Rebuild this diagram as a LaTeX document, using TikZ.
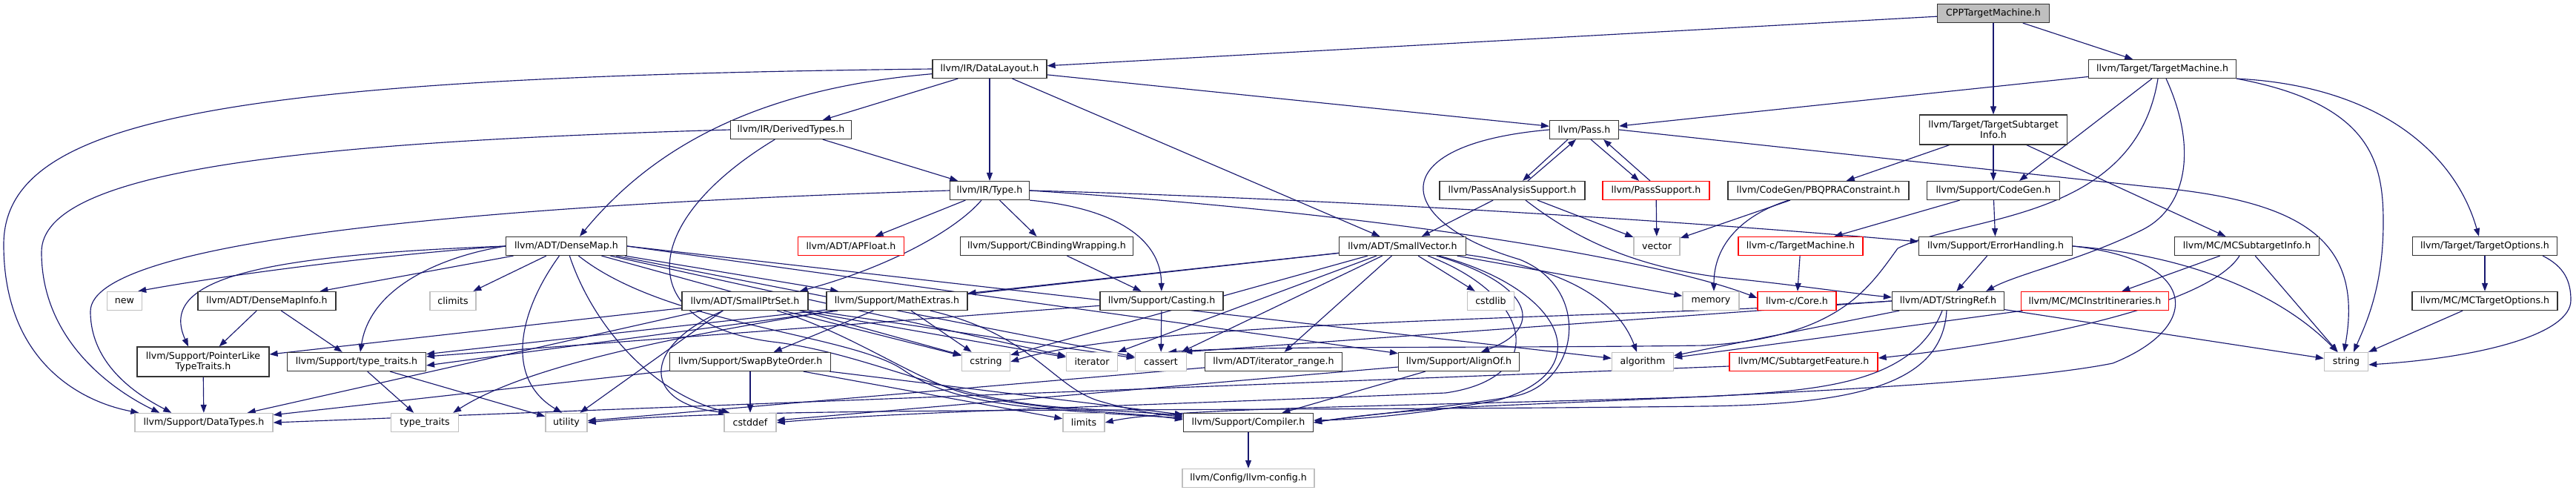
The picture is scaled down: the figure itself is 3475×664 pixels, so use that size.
\documentclass[tikz,border=0pt]{standalone}
\usepackage{fontspec}
\setmainfont{DejaVu Sans}
\usetikzlibrary{arrows.meta}
\definecolor{depblue}{HTML}{191970}
\definecolor{hdrline}{HTML}{333333}
\definecolor{sysline}{HTML}{BFBFBF}
\definecolor{rootfill}{HTML}{BFBFBF}
\definecolor{truncline}{HTML}{FF0000}
\newcommand{\graphfont}{\fontsize{12.6}{14.5}\selectfont}
\pgfdeclarelayer{edges}
\pgfsetlayers{edges,main}
\tikzset{
  hdr/.style={
    draw=hdrline,
    rectangle,
    line width=1.2pt,
    fill=white,
    minimum height=25pt,
    inner sep=0pt,
    align=center,
    font=\graphfont,
  },
  syshdr/.style={
    hdr,
    draw=sysline,
    line width=1.4pt
  },
  trunchdr/.style={
    hdr,
    draw=truncline
  },
  roothdr/.style={
    hdr,
    fill=rootfill
  },
  dep/.style={
    -{Triangle[length=11pt,width=8pt]},
    draw=depblue,
    line width=1.15pt
  }
}

\begin{document}
\begin{tikzpicture}[x=1pt, y=-1pt]
\useasboundingbox (0,0) rectangle (3475,664);

% --- Rang 0 et 1 ---
\node[roothdr, minimum width=151] (cpp) at (2689,18) {CPPTargetMachine.h};
\node[hdr, minimum width=154] (dl) at (1335,93) {llvm/IR/DataLayout.h};
\node[hdr, minimum width=199] (tm) at (2917,93) {llvm/Target/TargetMachine.h};

% --- Rang 2 ---
\node[hdr, minimum width=163] (dty) at (1067,175) {llvm/IR/DerivedTypes.h};
\node[hdr, minimum width=93] (pass) at (2137,175) {llvm/Pass.h};
\node[hdr, minimum width=199, minimum height=40] (tsi) at (2689,175) {llvm/Target/TargetSubtarget\\Info.h};

% --- Rang 3 ---
\node[hdr, minimum width=107] (type) at (1335,257) {llvm/IR/Type.h};
\node[hdr, minimum width=196] (pas) at (2040,257) {llvm/PassAnalysisSupport.h};
\node[trunchdr, minimum width=144] (ps) at (2234,257) {llvm/PassSupport.h};
\node[hdr, minimum width=244] (pbqp) at (2453,257) {llvm/CodeGen/PBQPRAConstraint.h};
\node[hdr, minimum width=179] (cg) at (2689,257) {llvm/Support/CodeGen.h};

% --- Rang 4 ---
\node[hdr, minimum width=163] (dm) at (764,332) {llvm/ADT/DenseMap.h};
\node[trunchdr, minimum width=143] (apf) at (1148,332) {llvm/ADT/APFloat.h};
\node[hdr, minimum width=233] (cbw) at (1412,332) {llvm/Support/CBindingWrapping.h};
\node[hdr, minimum width=171] (sv) at (1892,332) {llvm/ADT/SmallVector.h};
\node[syshdr, minimum width=62] (vec) at (2235,332) {vector};
\node[trunchdr, minimum width=168] (ctm) at (2429,332) {llvm-c/TargetMachine.h};
\node[hdr, minimum width=207] (eh) at (2692,332) {llvm/Support/ErrorHandling.h};
\node[hdr, minimum width=195] (mcsti) at (3031,332) {llvm/MC/MCSubtargetInfo.h};
\node[hdr, minimum width=195] (topt) at (3352,332) {llvm/Target/TargetOptions.h};

% --- Rang 5 ---
\node[syshdr, minimum width=47] (new) at (168,406) {new};
\node[hdr, minimum width=186] (dmi) at (360,406) {llvm/ADT/DenseMapInfo.h};
\node[syshdr, minimum width=62] (clim) at (611,406) {climits};
\node[hdr, minimum width=170] (spset) at (1005,406) {llvm/ADT/SmallPtrSet.h};
\node[hdr, minimum width=190] (mathx) at (1210,406) {llvm/Support/MathExtras.h};
\node[hdr, minimum width=166] (cast) at (1567,406) {llvm/Support/Casting.h};
\node[syshdr, minimum width=63] (cstdlib) at (2011,406) {cstdlib};
\node[syshdr, minimum width=76] (mem) at (2308,406) {memory};
\node[trunchdr, minimum width=106] (core) at (2424,406) {llvm-c/Core.h};
\node[hdr, minimum width=151] (sref) at (2628,406) {llvm/ADT/StringRef.h};
\node[trunchdr, minimum width=199] (mcii) at (2826,406) {llvm/MC/MCInstrItineraries.h};
\node[hdr, minimum width=196] (mcto) at (3352,406) {llvm/MC/MCTargetOptions.h};

% --- Rang 6 ---
\node[hdr, minimum width=178, minimum height=40] (pltt) at (274,488) {llvm/Support/PointerLike\\TypeTraits.h};
\node[hdr, minimum width=187] (ttr) at (481,488) {llvm/Support/type\_traits.h};
\node[hdr, minimum width=217] (sbo) at (1012,488) {llvm/Support/SwapByteOrder.h};
\node[syshdr, minimum width=65] (cstr) at (1330,488) {cstring};
\node[syshdr, minimum width=69] (iter) at (1473,488) {iterator};
\node[syshdr, minimum width=69] (cass) at (1566,488) {cassert};
\node[hdr, minimum width=185] (itr) at (1718,488) {llvm/ADT/iterator\_range.h};
\node[hdr, minimum width=163] (align) at (1968,488) {llvm/Support/AlignOf.h};
\node[syshdr, minimum width=83] (algo) at (2216,488) {algorithm};
\node[trunchdr, minimum width=200] (stf) at (2433,488) {llvm/MC/SubtargetFeature.h};
\node[syshdr, minimum width=59] (str) at (3165,488) {string};

% --- Rang 7 et 8 ---
\node[syshdr, minimum width=186] (dtypes) at (275,570) {llvm/Support/DataTypes.h};
\node[syshdr, minimum width=91] (tt) at (573,570) {type\_traits};
\node[syshdr, minimum width=56] (util) at (764,570) {utility};
\node[syshdr, minimum width=70] (cstdd) at (1012,570) {cstddef};
\node[syshdr, minimum width=56] (lim) at (1462,570) {limits};
\node[hdr, minimum width=175] (comp) at (1684,570) {llvm/Support/Compiler.h};
\node[syshdr, minimum width=178] (cfg) at (1684,645) {llvm/Config/llvm-config.h};

\begin{pgfonlayer}{edges}
% --- CPPTargetMachine.h ---
\draw[dep] (cpp) -- (dl);
\draw[dep] (cpp) -- (tm);
\draw[dep] (cpp) -- (tsi);

% --- DataLayout.h ---
\draw[dep] (dl.west) .. controls (300,104) and (5,160) .. (5,330) .. controls (5,480) and (100,540) .. ([xshift=6pt]dtypes.north west);
\draw[dep] (dl) .. controls (1020,120) and (880,200) .. ([xshift=18pt]dm.north);
\draw[dep] (dl) -- (dty);
\draw[dep] (dl) -- (type);
\draw[dep] (dl) -- (pass);
\draw[dep] (dl) -- (sv);

% --- TargetMachine.h ---
\draw[dep] (tm) -- (pass);
\draw[dep] ([xshift=-14pt]tm.south) -- ([xshift=35pt]cg.north);
\draw[dep] ([xshift=-6pt]tm.south) .. controls (2880,300) and (2650,290) .. (2560,335) .. controls (2520,390) and (2480,455) .. (2300,466) .. controls (2000,470) and (1700,466) .. ([xshift=10pt]cass.north);
\draw[dep] ([xshift=5pt]tm.south) .. controls (2965,200) and (2950,280) .. (2890,310) .. controls (2810,350) and (2720,370) .. ([xshift=-25pt]sref.north east);
\draw[dep] (tm.south east) .. controls (3200,115) and (3310,200) .. ([xshift=-8pt]topt.north);
\draw[dep] (tm.south east) .. controls (3200,140) and (3215,220) .. (3215,300) .. controls (3215,390) and (3190,440) .. ([xshift=10pt]str.north);

% --- TargetSubtargetInfo.h ---
\draw[dep] (tsi) -- (pbqp);
\draw[dep] (tsi) -- (cg);
\draw[dep] (tsi) -- (mcsti);

% --- DerivedTypes.h ---
\draw[dep] (dty) -- (type);
\draw[dep] (dty.west) .. controls (400,192) and (56,230) .. (56,340) .. controls (56,470) and (170,535) .. ([xshift=34pt]dtypes.north west);
\draw[dep] (dty) .. controls (860,300) and (850,440) .. (1050,462) .. controls (1180,480) and (1280,540) .. (1440,550) -- ([yshift=10pt]comp.west);

% --- Pass.h ---
\draw[dep] ([xshift=-22pt]pass.south) -- ([xshift=14pt]pas.north);
\draw[dep] ([xshift=9pt]pass.south) -- ([xshift=-23pt]ps.north);
\draw[dep] (pass.west) .. controls (1860,195) and (1880,300) .. (2050,350) .. controls (2150,390) and (2130,520) .. (2040,535) .. controls (1950,550) and (1820,562) .. (comp.east);
\draw[dep] (pass.east) -- (2900,252) .. controls (3100,270) and (3190,320) .. ([xshift=-3pt]str.north);

% --- Type.h ---
\draw[dep] (type) -- (apf);
\draw[dep] (type) -- (cbw);
\draw[dep] (type) .. controls (1290,310) and (1200,360) .. ([xshift=-12pt]spset.north east);
\draw[dep] (type.south east) .. controls (1500,280) and (1566,320) .. (cast);
\draw[dep] (type.east) .. controls (1800,268) and (2300,300) .. ([yshift=6pt]eh.west);
\draw[dep] (type.east) .. controls (1900,290) and (2250,355) .. ([yshift=4pt]core.west);
\draw[dep] (type.west) .. controls (700,275) and (122,320) .. (122,420) .. controls (122,500) and (200,540) .. ([xshift=50pt]dtypes.north west);

% --- PassAnalysisSupport.h ---
\draw[dep] ([xshift=21pt]pas.north) -- ([xshift=-11pt]pass.south);
\draw[dep] (pas) -- (sv);
\draw[dep] (pas) -- (vec);
\draw[dep] ([xshift=18pt]pas.south) .. controls (2110,310) and (2190,360) .. (2330,375) .. controls (2420,384) and (2500,396) .. ([yshift=5pt]sref.west);

% --- PassSupport.h ---
\draw[dep] ([xshift=-8pt]ps.north) -- ([xshift=26pt]pass.south);
\draw[dep] (ps) -- (vec);

% --- PBQPRAConstraint.h ---
\draw[dep] (pbqp) -- (vec);
\draw[dep] ([xshift=-40pt]pbqp.south) .. controls (2350,290) and (2312,330) .. ([xshift=4pt]mem.north);

% --- CodeGen.h ---
\draw[dep] (cg) -- (ctm);
\draw[dep] (cg) -- (eh);

% --- DenseMap.h ---
\draw[dep] (dm.west) .. controls (500,345) and (300,372) .. ([xshift=-6pt]new.north east);
\draw[dep] (dm) -- (dmi);
\draw[dep] (dm) -- (clim);
\draw[dep] (dm.west) .. controls (330,345) and (215,380) .. ([xshift=-20pt]pltt.north);
\draw[dep] (dm.west) .. controls (600,345) and (500,385) .. ([xshift=5pt]ttr.north);
\draw[dep] (dm) .. controls (700,420) and (680,510) .. ([xshift=-6pt]util.north);
\draw[dep] (dm) .. controls (800,440) and (880,530) .. ([xshift=8pt]cstdd.north west);
\draw[dep] (dm) -- (mathx);
\draw[dep] (dm) .. controls (900,440) and (1150,450) .. (1220,500) .. controls (1290,548) and (1400,552) .. ([yshift=6pt]comp.west);
\draw[dep] (dm.east) -- (align);
\draw[dep] (dm.east) -- (algo);
\draw[dep] (dm) -- (cass);
\draw[dep] (dm) -- (cstr);
\draw[dep] (dm) -- (iter);

% --- CBindingWrapping.h ---
\draw[dep] (cbw) -- (cast);

% --- SmallVector.h ---
\draw[dep] (sv) -- (itr);
\draw[dep] (sv) -- (mathx);
\draw[dep] (sv) -- (ttr);
\draw[dep] (sv) -- (cass);
\draw[dep] (sv) -- (cstr);
\draw[dep] (sv) -- (iter);
\draw[dep] (sv) -- (cstdlib);
\draw[dep] (sv) -- (mem);
\draw[dep] (sv) .. controls (2100,360) and (2180,400) .. ([xshift=-8pt]algo.north);
\draw[dep] (sv) .. controls (2060,380) and (2090,440) .. ([xshift=30pt]align.north);
\draw[dep] (sv) .. controls (2070,400) and (2090,510) .. (1950,530) .. controls (1600,545) and (1200,556) .. (cstdd.east);
\draw[dep] (sv) .. controls (2110,390) and (2160,500) .. (2020,540) .. controls (1930,556) and (1840,566) .. ([yshift=3pt]comp.east);

% --- llvm-c/TargetMachine.h ---
\draw[dep] (ctm) -- (core);

% --- ErrorHandling.h ---
\draw[dep] (eh) -- (sref);
\draw[dep] (eh.east) .. controls (2960,345) and (3080,400) .. ([xshift=-12pt]str.north);
\draw[dep] (eh.east) .. controls (2965,350) and (2975,440) .. (2850,490) .. controls (2700,520) and (2300,535) .. (2000,548) .. controls (1900,553) and (1820,562) .. (comp.east);

% --- MCSubtargetInfo.h ---
\draw[dep] (mcsti) -- (mcii);
\draw[dep] ([xshift=-10pt]mcsti.south) .. controls (2980,410) and (2750,460) .. ([yshift=5pt]stf.east);
\draw[dep] (mcsti) -- (str);

% --- TargetOptions.h ---
\draw[dep] (topt) -- (mcto);
\draw[dep] ([xshift=-20pt]topt.south east) .. controls (3460,360) and (3468,380) .. (3468,405) .. controls (3468,450) and (3350,482) .. ([yshift=-4pt]str.east);

% --- MCTargetOptions.h ---
\draw[dep] (mcto) -- (str);

% --- DenseMapInfo.h ---
\draw[dep] (dmi) -- (pltt);
\draw[dep] (dmi) -- (ttr);

% --- SmallPtrSet.h ---
\draw[dep] (spset) -- (pltt);
\draw[dep] (spset) -- (dtypes);
\draw[dep] ([xshift=-30pt]spset.south) -- (util);
\draw[dep] (spset) .. controls (860,470) and (870,545) .. ([xshift=4pt]cstdd.north west);
\draw[dep] (spset) .. controls (1150,450) and (1230,510) .. (1300,530) .. controls (1400,555) and (1520,555) .. ([yshift=4pt]comp.west);
\draw[dep] (spset) -- (cass);
\draw[dep] (spset) -- (cstr);
\draw[dep] (spset) -- (iter);

% --- MathExtras.h ---
\draw[dep] (mathx) -- (sbo);
\draw[dep] ([xshift=-80pt]mathx.south) -- ([yshift=-5pt]ttr.east);
\draw[dep] (mathx) -- (cstr);
\draw[dep] ([xshift=-85pt]mathx.south) .. controls (870,460) and (700,500) .. ([xshift=-8pt]tt.north east);
\draw[dep] ([xshift=45pt]mathx.south) .. controls (1390,450) and (1420,520) .. (1480,540) .. controls (1530,555) and (1570,560) .. ([yshift=8pt]comp.west);

% --- Casting.h ---
\draw[dep] (cast) -- (ttr);
\draw[dep] (cast) -- (cass);

% --- StringRef.h ---
\draw[dep] (sref) -- (str);
\draw[dep] (sref) -- (algo);
\draw[dep] (sref.west) -- ([xshift=-4pt]cass.north east);
\draw[dep] (sref.west) .. controls (2200,430) and (1550,430) .. (cstr.east);
\draw[dep] ([xshift=-8pt]sref.south) .. controls (2580,520) and (2450,527) .. (2300,535) .. controls (1900,548) and (1580,550) .. (lim.east);
\draw[dep] ([xshift=-2pt]sref.south) .. controls (2620,520) and (2500,545) .. (2300,548) .. controls (1600,556) and (1000,548) .. (util.east);

% --- MCInstrItineraries.h ---
\draw[dep] (mcii) -- (algo);

% --- PointerLikeTypeTraits.h, type_traits.h ---
\draw[dep] (pltt) -- (dtypes);
\draw[dep] (ttr) -- (tt);
\draw[dep] (ttr) -- (util);

% --- SwapByteOrder.h ---
\draw[dep] (sbo) -- (cstdd);
\draw[dep] (sbo) -- (dtypes);
\draw[dep] (sbo) -- (lim);
\draw[dep] (sbo) -- (comp);

% --- iterator_range.h, AlignOf.h, SubtargetFeature.h ---
\draw[dep] (itr) -- (util);
\draw[dep] (align) -- (comp);
\draw[dep] (align) -- (cstdd);
\draw[dep] ([yshift=-6pt]stf.west) -- (dtypes.east);

% --- Compiler.h ---
\draw[dep] (comp) -- (cfg);
\end{pgfonlayer}

\end{tikzpicture}
\end{document}
